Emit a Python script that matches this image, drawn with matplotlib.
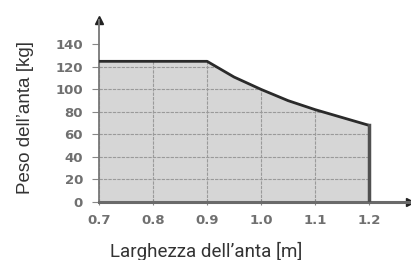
import matplotlib.pyplot as plt
import numpy as np

# door width [m] vs max leaf weight [kg]
width = [0.7, 0.9, 0.95, 1.0, 1.05, 1.1, 1.15, 1.2]
weight = [125, 125, 111, 100, 90, 82, 75, 68]

xticks = [0.7, 0.8, 0.9, 1.0, 1.1, 1.2]
yticks = [0, 20, 40, 60, 80, 100, 120, 140]

fig = plt.figure(figsize=(4.11, 2.60), dpi=100)
ax = fig.add_axes([0.241, 0.224, 0.757, 0.70])

ax.set_xlim(0.7, 1.276)
ax.set_ylim(0, 162)

xs = np.array(width)
ys = np.array(weight)
poly = ax.fill_between(xs, 0, ys, color="#d6d6d6", lw=0, zorder=1)

# grid only inside the filled area
ax.set_xticks(xticks)
ax.set_yticks(yticks)
ax.grid(True, color="#9a9a9a", lw=0.8, ls=(0, (3, 1)), zorder=2)
clip = poly.get_paths()[0]
for gl in ax.get_xgridlines() + ax.get_ygridlines():
    gl.set_clip_path(clip, ax.transData)

ax.plot(xs, ys, color="#2a2a2a", lw=2.0, zorder=3, solid_capstyle="butt")
ax.plot([1.2, 1.2], [0, weight[-1]], color="#505050", lw=2.5, zorder=3)

for s in ["top", "right"]:
    ax.spines[s].set_visible(False)
ax.spines["left"].set_color("#777777")
ax.spines["left"].set_linewidth(1.3)
ax.spines["bottom"].set_color("#6a6a6a")
ax.spines["bottom"].set_linewidth(2.2)

# arrow heads
ax.plot(1, 0, ">", color="#222222", ms=6, transform=ax.transAxes, clip_on=False)
ax.plot(0, 1, "^", color="#222222", ms=6, transform=ax.transAxes, clip_on=False)

ax.tick_params(axis="y", colors="#888888", length=5, width=0.8, direction="out", pad=6.5)
ax.tick_params(axis="x", colors="#888888", direction="inout", length=5, width=0.8, pad=6)
ax.set_xticklabels(["%.1f" % v for v in xticks])
for lab in ax.get_xticklabels() + ax.get_yticklabels():
    lab.set_fontsize(9.5)
    lab.set_fontweight("bold")
    lab.set_color("#707070")

ax.set_xlabel("Larghezza dell\u2019anta [m]", fontsize=13.5, color="#333333",
              family="Roboto")
ax.xaxis.set_label_coords(0.502, 0.068, transform=fig.transFigure)
ax.set_ylabel("Peso dell\u2019anta [kg]", fontsize=13.5, color="#333333",
              family="Liberation Sans")
ax.yaxis.set_label_coords(0.082, 0.548, transform=fig.transFigure)

fig.savefig("out.png", dpi=100)
